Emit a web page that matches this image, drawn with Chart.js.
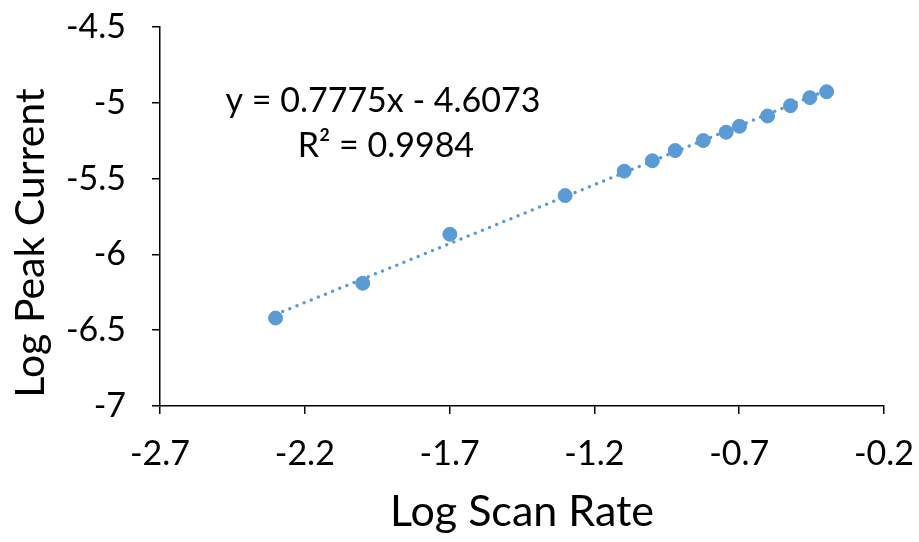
<!DOCTYPE html>
<html>
<head>
<meta charset="utf-8">
<title>Log Peak Current vs Log Scan Rate</title>
<script src="https://cdn.jsdelivr.net/npm/chart.js@4.4.1/dist/chart.umd.min.js"></script>
<style>
  html, body { margin: 0; padding: 0; background: #fff; }
  #wrap { width: 919px; height: 542px; }
</style>
</head>
<body>
<div id="wrap"><canvas id="chart"></canvas></div>
<script>
// log10 of scan rate (V/s) and peak current (A)
const logScanRate = [-2.301, -2.0, -1.699, -1.301, -1.097, -1.0, -0.921, -0.824, -0.745, -0.699, -0.602, -0.523, -0.456, -0.398];
const logPeakCurrent = [-6.42, -6.19, -5.867, -5.612, -5.451, -5.382, -5.315, -5.249, -5.194, -5.155, -5.087, -5.019, -4.966, -4.927];

const xTicks = [-2.7, -2.2, -1.7, -1.2, -0.7, -0.2];
const yTicks = [-7, -6.5, -6, -5.5, -5, -4.5];

// linear fit shown on the plot
const fitSlope = 0.7775;
const fitIntercept = -4.6073;
const fitR2 = 0.9984;

const BLUE = '#5B9BD5';
const FONT = 'Lato';

const xMin = Math.min(...logScanRate);
const xMax = Math.max(...logScanRate);
const fitLine = [xMin, xMax].map((x) => ({ x, y: fitSlope * x + fitIntercept }));

const eqText = `y = ${fitSlope}x - ${Math.abs(fitIntercept)}`;
const r2Text = `R\u00B2 = ${fitR2}`;

// equation, R² and rotated y title
const annotations = {
  id: 'annotations',
  afterDraw(chart) {
    const { ctx, chartArea, scales: { x, y } } = chart;
    ctx.save();
    ctx.fillStyle = '#000';
    ctx.textAlign = 'center';
    ctx.textBaseline = 'middle';
    ctx.font = `34px ${FONT}`;
    ctx.fillText(eqText, x.getPixelForValue(-1.93), y.getPixelForValue(-4.99));
    ctx.fillText(r2Text, x.getPixelForValue(-1.92), y.getPixelForValue(-5.285));

    ctx.font = `41px ${FONT}`;
    ctx.translate(31, chartArea.bottom - 163);
    ctx.rotate(-Math.PI / 2);
    ctx.fillText('Log Peak Current', 0, 0);
    ctx.restore();
  },
};

const axisStyle = (ticks) => ({
  type: 'linear',
  min: ticks[0],
  max: ticks[ticks.length - 1],
  afterBuildTicks: (s) => { s.ticks = ticks.map((v) => ({ value: v })); },
  border: { display: true, color: '#000', width: 1.5 },
  grid: { display: true, drawOnChartArea: false, drawTicks: true, tickLength: 8, color: '#000', lineWidth: 1.5 },
  ticks: { color: '#000', font: { family: FONT, size: 34 }, callback: (v) => String(v) },
});

// fixed axis boxes; the outer gaps come from layout.padding instead
const xAxis = axisStyle(xTicks);
xAxis.ticks.padding = 20;
xAxis.ticks.maxRotation = 0;
xAxis.title = { display: true, text: 'Log Scan Rate', color: '#000', font: { family: FONT, size: 43 }, padding: { top: 0, bottom: 4 } };
xAxis.afterFit = (s) => { s.height = 136; s.paddingLeft = 0; s.paddingRight = 0; };

const yAxis = axisStyle(yTicks);
yAxis.ticks.padding = 26;
yAxis.afterFit = (s) => { s.width = 160; s.paddingTop = 0; s.paddingBottom = 0; };

new Chart(document.getElementById('chart'), {
  data: {
    datasets: [
      {
        type: 'scatter',
        data: logScanRate.map((x, i) => ({ x, y: logPeakCurrent[i] })),
        backgroundColor: BLUE,
        borderColor: BLUE,
        pointRadius: 7,
        pointHoverRadius: 7,
        order: 0,
      },
      {
        type: 'line',
        data: fitLine,
        borderColor: BLUE,
        borderWidth: 3.5,
        borderDash: [0, 7.7],
        borderCapStyle: 'round',
        pointRadius: 0,
        fill: false,
        order: 1,
      },
    ],
  },
  options: {
    responsive: true,
    maintainAspectRatio: false,
    animation: false,
    layout: { padding: { left: 0, right: 35, top: 27, bottom: 0 } },
    plugins: { legend: { display: false }, tooltip: { enabled: false } },
    scales: { x: xAxis, y: yAxis },
  },
  plugins: [annotations],
});
</script>
</body>
</html>
